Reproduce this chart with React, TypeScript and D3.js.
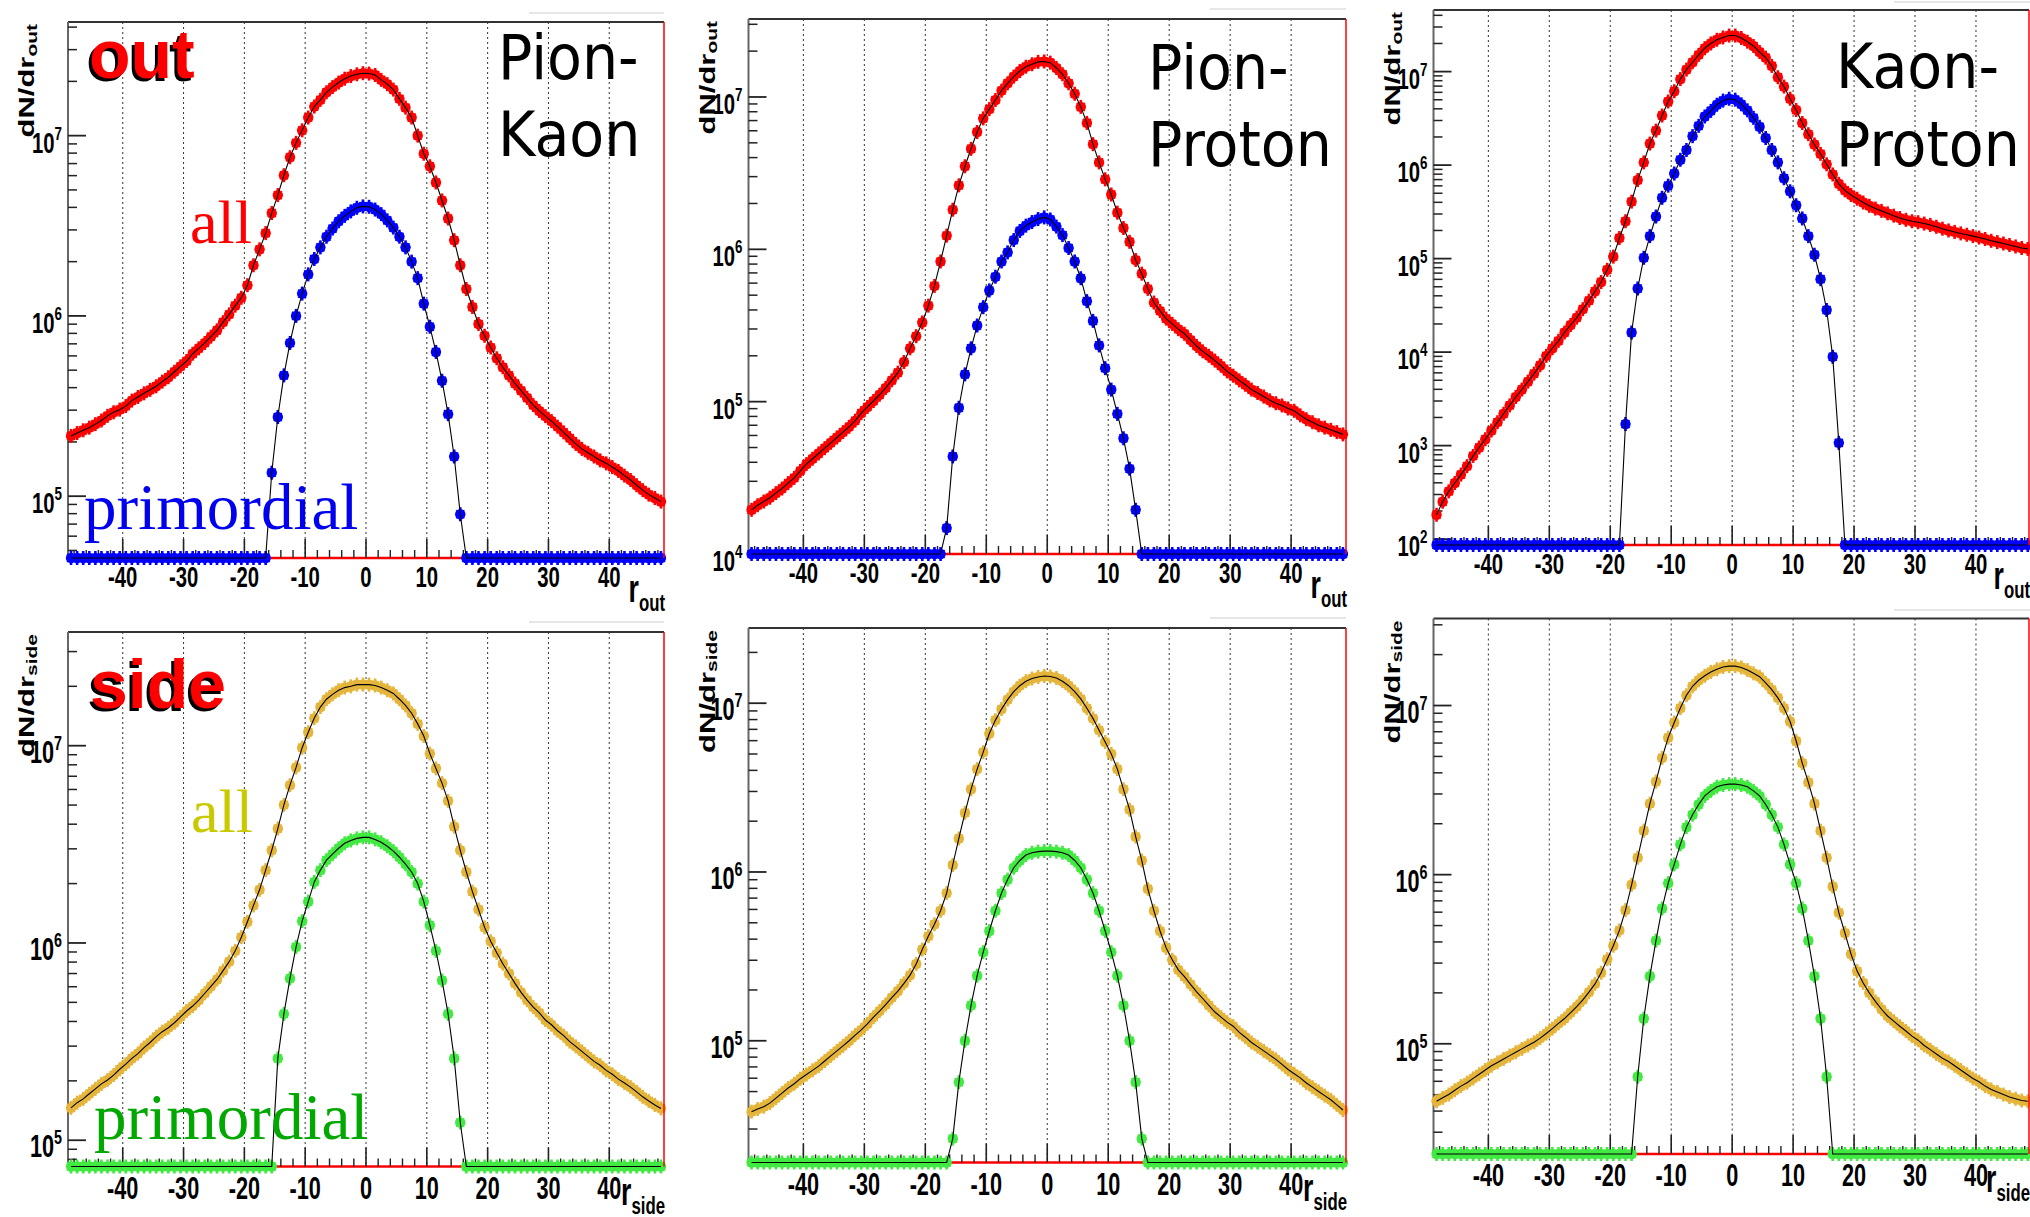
import React from 'react';
import * as d3 from 'd3';

// ---------- bin centres (categories) and axis ticks ----------
const binCenters: number[] = d3.range(-48.5, 49, 1); // 98 bins of width 1
const xMajorTicks = [-40, -30, -20, -10, 0, 10, 20, 30, 40];

// ---------- "out" direction ----------
const outPionKaonAll = [
  2.16e5, 2.24e5, 2.32e5, 2.40e5, 2.51e5, 2.63e5, 2.79e5, 2.92e5, 3.02e5, 3.16e5,
  3.39e5, 3.55e5, 3.72e5, 3.89e5, 4.07e5, 4.32e5, 4.57e5, 4.90e5, 5.25e5, 5.62e5,
  6.17e5, 6.61e5, 7.08e5, 7.67e5, 8.32e5, 9.23e5, 1.02e6, 1.14e6, 1.26e6, 1.48e6,
  1.91e6, 2.34e6, 2.88e6, 3.72e6, 4.68e6, 6.03e6, 7.59e6, 9.12e6, 1.07e7, 1.26e7,
  1.45e7, 1.58e7, 1.74e7, 1.86e7, 1.97e7, 2.07e7, 2.14e7, 2.19e7, 2.22e7, 2.21e7,
  2.17e7, 2.04e7, 1.93e7, 1.80e7, 1.60e7, 1.43e7, 1.26e7, 1.00e7, 7.94e6, 6.76e6,
  5.50e6, 4.37e6, 3.47e6, 2.63e6, 1.91e6, 1.41e6, 1.12e6, 9.02e5, 7.76e5, 6.68e5,
  5.82e5, 5.19e5, 4.68e5, 4.22e5, 3.85e5, 3.51e5, 3.20e5, 2.97e5, 2.78e5, 2.61e5,
  2.43e5, 2.26e5, 2.10e5, 1.95e5, 1.83e5, 1.74e5, 1.66e5, 1.58e5, 1.52e5, 1.45e5,
  1.38e5, 1.30e5, 1.23e5, 1.15e5, 1.08e5, 1.02e5, 9.77e4, 9.33e4,
];
const outPionKaonPrimordial = [
  0, 0, 0, 0, 0, 0, 0, 0, 0, 0,
  0, 0, 0, 0, 0, 0, 0, 0, 0, 0,
  0, 0, 0, 0, 0, 0, 0, 0, 0, 0,
  0, 0, 0, 1.35e5, 2.75e5, 4.68e5, 7.08e5, 1.00e6, 1.33e6, 1.70e6,
  2.07e6, 2.40e6, 2.75e6, 3.05e6, 3.35e6, 3.59e6, 3.80e6, 3.98e6, 4.05e6, 4.03e6,
  3.89e6, 3.67e6, 3.39e6, 3.09e6, 2.75e6, 2.40e6, 2.00e6, 1.62e6, 1.17e6, 8.71e5,
  6.31e5, 4.37e5, 2.85e5, 1.66e5, 7.94e4, 0, 0, 0, 0, 0,
  0, 0, 0, 0, 0, 0, 0, 0, 0, 0,
  0, 0, 0, 0, 0, 0, 0, 0, 0, 0,
  0, 0, 0, 0, 0, 0, 0, 0,
];
const outPionProtonAll = [
  1.95e4, 2.09e4, 2.21e4, 2.34e4, 2.51e4, 2.69e4, 2.92e4, 3.16e4, 3.51e4, 3.89e4,
  4.22e4, 4.57e4, 4.95e4, 5.37e4, 5.82e4, 6.31e4, 6.84e4, 7.50e4, 8.41e4, 9.23e4,
  1.01e5, 1.11e5, 1.23e5, 1.38e5, 1.55e5, 1.82e5, 2.24e5, 2.69e5, 3.31e5, 4.27e5,
  5.75e5, 8.32e5, 1.23e6, 1.82e6, 2.63e6, 3.51e6, 4.57e6, 5.89e6, 7.24e6, 8.32e6,
  9.55e6, 1.10e7, 1.23e7, 1.36e7, 1.48e7, 1.58e7, 1.64e7, 1.70e7, 1.71e7, 1.68e7,
  1.55e7, 1.41e7, 1.23e7, 1.05e7, 8.61e6, 6.76e6, 4.90e6, 3.72e6, 2.88e6, 2.29e6,
  1.74e6, 1.38e6, 1.12e6, 8.51e5, 6.92e5, 5.50e5, 4.47e5, 3.94e5, 3.51e5, 3.24e5,
  2.99e5, 2.79e5, 2.54e5, 2.32e5, 2.14e5, 2.00e5, 1.86e5, 1.72e5, 1.58e5, 1.48e5,
  1.38e5, 1.29e5, 1.20e5, 1.14e5, 1.08e5, 1.02e5, 9.77e4, 9.44e4, 9.02e4, 8.71e4,
  8.13e4, 7.67e4, 7.33e4, 7.00e4, 6.76e4, 6.53e4, 6.31e4, 6.10e4,
];
const outPionProtonPrimordial = [
  0, 0, 0, 0, 0, 0, 0, 0, 0, 0,
  0, 0, 0, 0, 0, 0, 0, 0, 0, 0,
  0, 0, 0, 0, 0, 0, 0, 0, 0, 0,
  0, 0, 1.48e4, 4.37e4, 9.12e4, 1.51e5, 2.24e5, 3.16e5, 4.17e5, 5.37e5,
  6.61e5, 8.32e5, 9.55e5, 1.15e6, 1.32e6, 1.43e6, 1.51e6, 1.58e6, 1.62e6, 1.57e6,
  1.41e6, 1.24e6, 1.02e6, 8.32e5, 6.46e5, 4.57e5, 3.39e5, 2.34e5, 1.66e5, 1.20e5,
  8.32e4, 5.75e4, 3.63e4, 1.95e4, 0, 0, 0, 0, 0, 0,
  0, 0, 0, 0, 0, 0, 0, 0, 0, 0,
  0, 0, 0, 0, 0, 0, 0, 0, 0, 0,
  0, 0, 0, 0, 0, 0, 0, 0,
];
const outKaonProtonAll = [
  1.82e2, 2.51e2, 3.24e2, 3.98e2, 4.90e2, 6.03e2, 7.76e2, 9.55e2, 1.17e3, 1.45e3,
  1.78e3, 2.19e3, 2.69e3, 3.31e3, 3.98e3, 4.84e3, 5.89e3, 7.24e3, 9.12e3, 1.10e4,
  1.32e4, 1.62e4, 1.95e4, 2.34e4, 2.88e4, 3.55e4, 4.47e4, 5.62e4, 7.59e4, 1.05e5,
  1.66e5, 2.51e5, 4.07e5, 6.92e5, 1.07e6, 1.70e6, 2.34e6, 3.39e6, 4.79e6, 6.17e6,
  8.32e6, 1.05e7, 1.26e7, 1.51e7, 1.78e7, 2.00e7, 2.19e7, 2.32e7, 2.43e7, 2.43e7,
  2.29e7, 2.09e7, 1.88e7, 1.62e7, 1.41e7, 1.15e7, 8.71e6, 6.92e6, 5.13e6, 3.89e6,
  2.82e6, 2.14e6, 1.66e6, 1.32e6, 1.02e6, 7.94e5, 6.31e5, 5.37e5, 4.79e5, 4.37e5,
  3.98e5, 3.67e5, 3.43e5, 3.24e5, 3.05e5, 2.88e5, 2.72e5, 2.60e5, 2.51e5, 2.45e5,
  2.37e5, 2.29e5, 2.19e5, 2.09e5, 2.00e5, 1.93e5, 1.86e5, 1.80e5, 1.74e5, 1.68e5,
  1.62e5, 1.55e5, 1.50e5, 1.45e5, 1.40e5, 1.35e5, 1.30e5, 1.27e5,
];
const outKaonProtonPrimordial = [
  0, 0, 0, 0, 0, 0, 0, 0, 0, 0,
  0, 0, 0, 0, 0, 0, 0, 0, 0, 0,
  0, 0, 0, 0, 0, 0, 0, 0, 0, 0,
  0, 1.70e3, 1.62e4, 4.79e4, 1.02e5, 1.74e5, 2.82e5, 4.47e5, 6.03e5, 8.13e5,
  1.14e6, 1.45e6, 2.04e6, 2.63e6, 3.31e6, 3.80e6, 4.42e6, 4.90e6, 5.13e6, 5.01e6,
  4.47e6, 3.85e6, 3.20e6, 2.57e6, 1.95e6, 1.45e6, 1.07e6, 7.24e5, 5.25e5, 3.72e5,
  2.69e5, 1.74e5, 1.10e5, 6.03e4, 2.82e4, 8.91e3, 1.07e3, 0, 0, 0,
  0, 0, 0, 0, 0, 0, 0, 0, 0, 0,
  0, 0, 0, 0, 0, 0, 0, 0, 0, 0,
  0, 0, 0, 0, 0, 0, 0, 0,
];

// ---------- "side" direction ----------
const sidePionKaonAll = [
  1.46e5, 1.55e5, 1.62e5, 1.72e5, 1.82e5, 1.93e5, 2.02e5, 2.14e5, 2.29e5, 2.43e5,
  2.60e5, 2.75e5, 2.95e5, 3.13e5, 3.35e5, 3.55e5, 3.72e5, 3.94e5, 4.22e5, 4.52e5,
  4.79e5, 5.13e5, 5.56e5, 6.03e5, 6.53e5, 7.24e5, 8.04e5, 9.12e5, 1.07e6, 1.28e6,
  1.55e6, 1.86e6, 2.34e6, 2.95e6, 3.80e6, 5.01e6, 6.31e6, 7.76e6, 9.77e6, 1.17e7,
  1.38e7, 1.57e7, 1.72e7, 1.82e7, 1.91e7, 1.97e7, 2.00e7, 2.04e7, 2.04e7, 2.04e7,
  2.02e7, 1.97e7, 1.91e7, 1.84e7, 1.72e7, 1.60e7, 1.46e7, 1.29e7, 1.12e7, 9.12e6,
  7.67e6, 6.46e6, 5.25e6, 3.89e6, 2.95e6, 2.29e6, 1.82e6, 1.48e6, 1.20e6, 1.02e6,
  8.91e5, 7.85e5, 7.00e5, 6.24e5, 5.62e5, 5.13e5, 4.73e5, 4.42e5, 4.07e5, 3.85e5,
  3.59e5, 3.39e5, 3.16e5, 2.99e5, 2.82e5, 2.66e5, 2.51e5, 2.40e5, 2.26e5, 2.16e5,
  2.04e5, 1.95e5, 1.86e5, 1.76e5, 1.66e5, 1.58e5, 1.51e5, 1.45e5,
];
const sidePionKaonPrimordial = [
  0, 0, 0, 0, 0, 0, 0, 0, 0, 0,
  0, 0, 0, 0, 0, 0, 0, 0, 0, 0,
  0, 0, 0, 0, 0, 0, 0, 0, 0, 0,
  0, 0, 0, 0, 2.60e5, 4.37e5, 6.61e5, 9.55e5, 1.29e6, 1.62e6,
  2.04e6, 2.34e6, 2.63e6, 2.82e6, 3.02e6, 3.20e6, 3.31e6, 3.39e6, 3.43e6, 3.43e6,
  3.35e6, 3.24e6, 3.09e6, 2.92e6, 2.72e6, 2.51e6, 2.29e6, 2.00e6, 1.62e6, 1.23e6,
  9.12e5, 6.46e5, 4.37e5, 2.60e5, 1.23e5, 0, 0, 0, 0, 0,
  0, 0, 0, 0, 0, 0, 0, 0, 0, 0,
  0, 0, 0, 0, 0, 0, 0, 0, 0, 0,
  0, 0, 0, 0, 0, 0, 0, 0,
];
const sidePionProtonAll = [
  3.80e4, 3.94e4, 4.07e4, 4.27e4, 4.57e4, 4.90e4, 5.25e4, 5.56e4, 5.96e4, 6.31e4,
  6.68e4, 7.08e4, 7.59e4, 8.13e4, 8.71e4, 9.33e4, 1.00e5, 1.08e5, 1.16e5, 1.26e5,
  1.38e5, 1.50e5, 1.64e5, 1.80e5, 1.97e5, 2.19e5, 2.45e5, 2.85e5, 3.47e5, 4.17e5,
  4.90e5, 5.89e5, 7.50e5, 1.10e6, 1.58e6, 2.24e6, 3.09e6, 4.07e6, 5.13e6, 6.61e6,
  7.94e6, 9.23e6, 1.05e7, 1.17e7, 1.27e7, 1.35e7, 1.40e7, 1.43e7, 1.45e7, 1.44e7,
  1.41e7, 1.35e7, 1.27e7, 1.17e7, 1.06e7, 9.33e6, 8.13e6, 6.92e6, 5.89e6, 5.01e6,
  4.07e6, 3.09e6, 2.34e6, 1.62e6, 1.17e6, 7.94e5, 5.89e5, 4.47e5, 3.55e5, 3.02e5,
  2.63e5, 2.40e5, 2.16e5, 1.95e5, 1.78e5, 1.62e5, 1.48e5, 1.38e5, 1.29e5, 1.22e5,
  1.12e5, 1.05e5, 9.77e4, 9.23e4, 8.71e4, 8.22e4, 7.76e4, 7.24e4, 6.76e4, 6.38e4,
  6.03e4, 5.62e4, 5.31e4, 5.01e4, 4.73e4, 4.47e4, 4.17e4, 3.89e4,
];
const sidePionProtonPrimordial = [
  0, 0, 0, 0, 0, 0, 0, 0, 0, 0,
  0, 0, 0, 0, 0, 0, 0, 0, 0, 0,
  0, 0, 0, 0, 0, 0, 0, 0, 0, 0,
  0, 0, 0, 2.63e4, 5.69e4, 1.00e5, 1.62e5, 2.43e5, 3.35e5, 4.47e5,
  5.89e5, 7.50e5, 9.02e5, 1.06e6, 1.17e6, 1.26e6, 1.30e6, 1.32e6, 1.33e6, 1.33e6,
  1.32e6, 1.30e6, 1.26e6, 1.17e6, 1.06e6, 9.02e5, 7.50e5, 5.89e5, 4.47e5, 3.35e5,
  2.43e5, 1.62e5, 1.00e5, 5.69e4, 2.63e4, 0, 0, 0, 0, 0,
  0, 0, 0, 0, 0, 0, 0, 0, 0, 0,
  0, 0, 0, 0, 0, 0, 0, 0, 0, 0,
  0, 0, 0, 0, 0, 0, 0, 0,
];
const sideKaonProtonAll = [
  4.57e4, 4.79e4, 5.01e4, 5.31e4, 5.62e4, 5.89e4, 6.24e4, 6.61e4, 7.00e4, 7.41e4,
  7.76e4, 8.13e4, 8.51e4, 8.91e4, 9.33e4, 9.77e4, 1.02e5, 1.08e5, 1.15e5, 1.23e5,
  1.32e5, 1.41e5, 1.53e5, 1.66e5, 1.82e5, 2.02e5, 2.26e5, 2.63e5, 3.16e5, 3.80e5,
  4.68e5, 6.17e5, 8.71e5, 1.26e6, 1.82e6, 2.63e6, 3.55e6, 4.90e6, 6.46e6, 7.94e6,
  9.66e6, 1.15e7, 1.30e7, 1.41e7, 1.50e7, 1.58e7, 1.64e7, 1.69e7, 1.71e7, 1.71e7,
  1.68e7, 1.62e7, 1.55e7, 1.48e7, 1.36e7, 1.24e7, 1.11e7, 9.66e6, 8.04e6, 6.17e6,
  4.57e6, 3.51e6, 2.63e6, 1.82e6, 1.26e6, 8.51e5, 5.96e5, 4.52e5, 3.39e5, 2.69e5,
  2.29e5, 2.00e5, 1.78e5, 1.60e5, 1.46e5, 1.36e5, 1.27e5, 1.19e5, 1.11e5, 1.05e5,
  9.77e4, 9.23e4, 8.71e4, 8.22e4, 7.85e4, 7.41e4, 7.00e4, 6.61e4, 6.24e4, 5.96e4,
  5.62e4, 5.37e4, 5.19e4, 5.01e4, 4.84e4, 4.73e4, 4.62e4, 4.57e4,
];
const sideKaonProtonPrimordial = [
  0, 0, 0, 0, 0, 0, 0, 0, 0, 0,
  0, 0, 0, 0, 0, 0, 0, 0, 0, 0,
  0, 0, 0, 0, 0, 0, 0, 0, 0, 0,
  0, 0, 0, 6.38e4, 1.41e5, 2.51e5, 4.07e5, 6.31e5, 8.91e5, 1.15e6,
  1.51e6, 1.91e6, 2.26e6, 2.60e6, 2.92e6, 3.13e6, 3.31e6, 3.39e6, 3.43e6, 3.43e6,
  3.39e6, 3.31e6, 3.13e6, 2.92e6, 2.60e6, 2.26e6, 1.91e6, 1.51e6, 1.15e6, 8.91e5,
  6.31e5, 4.07e5, 2.51e5, 1.41e5, 6.38e4, 0, 0, 0, 0, 0,
  0, 0, 0, 0, 0, 0, 0, 0, 0, 0,
  0, 0, 0, 0, 0, 0, 0, 0, 0, 0,
  0, 0, 0, 0, 0, 0, 0, 0,
];

// ---------- styling ----------
const RED = '#ff0000';
const BLUE = '#0000ff';
const GOLD = '#e4b53a';
const LIME = '#40ea40';

type PanelCfg = {
  key: string; all: number[]; prim: number[]; allColor: string; primColor: string;
  sub: string; row: number; left: number; right: number; top: number; bottom: number;
  xMax: number; yMin: number; yMax: number;
  names?: string[]; namesX?: number; namesY?: number[];
};

const panels: PanelCfg[] = [
  { key: 'outPK', all: outPionKaonAll, prim: outPionKaonPrimordial, allColor: RED, primColor: BLUE, sub: 'out', row: 0,
    left: 68, right: 664, top: 22, bottom: 558, xMax: 49, yMin: 4.54e4, yMax: 4.27e7,
    names: ['Pion-', 'Kaon'], namesX: 498, namesY: [79, 156] },
  { key: 'outPiP', all: outPionProtonAll, prim: outPionProtonPrimordial, allColor: RED, primColor: BLUE, sub: 'out', row: 0,
    left: 748.5, right: 1346, top: 19, bottom: 554, xMax: 49, yMin: 1e4, yMax: 3.25e7,
    names: ['Pion-', 'Proton'], namesX: 1148, namesY: [89, 166] },
  { key: 'outKP', all: outKaonProtonAll, prim: outKaonProtonPrimordial, allColor: RED, primColor: BLUE, sub: 'out', row: 0,
    left: 1433.5, right: 2029, top: 10, bottom: 545, xMax: 48.7, yMin: 86.5, yMax: 4.56e7,
    names: ['Kaon-', 'Proton'], namesX: 1836, namesY: [88, 166] },
  { key: 'sidePK', all: sidePionKaonAll, prim: sidePionKaonPrimordial, allColor: GOLD, primColor: LIME, sub: 'side', row: 1,
    left: 68, right: 664, top: 632, bottom: 1166.5, xMax: 49, yMin: 7.36e4, yMax: 3.77e7 },
  { key: 'sidePiP', all: sidePionProtonAll, prim: sidePionProtonPrimordial, allColor: GOLD, primColor: LIME, sub: 'side', row: 1,
    left: 748.5, right: 1346, top: 628, bottom: 1162.5, xMax: 49, yMin: 1.90e4, yMax: 2.79e7 },
  { key: 'sideKP', all: sideKaonProtonAll, prim: sideKaonProtonPrimordial, allColor: GOLD, primColor: LIME, sub: 'side', row: 1,
    left: 1433.5, right: 2029, top: 618.5, bottom: 1154, xMax: 48.7, yMin: 2.23e4, yMax: 3.27e7 },
];

const rowStyle = [
  { tickFont: 29, tickDy: 29, rDy: 44, subDy: 9 },
  { tickFont: 31, tickDy: 32, rDy: 38, subDy: 9 },
];

const SANS = 'Liberation Sans, Arial, Helvetica, sans-serif';
const SERIF = 'Liberation Serif, Times New Roman, serif';

function Markers({ xs, ys, color }: { xs: number[]; ys: number[]; color: string }) {
  return (
    <g>
      {xs.map((cx, i) => {
        const cy = ys[i];
        return (
          <g key={i}>
            <line x1={cx - 4.5} x2={cx + 4.5} y1={cy} y2={cy} stroke={color} strokeWidth={2.6} />
            <line x1={cx} x2={cx} y1={cy - 7} y2={cy + 7} stroke={color} strokeWidth={2.6} />
            <line x1={cx - 4} x2={cx + 4} y1={cy - 4} y2={cy + 4} stroke={color} strokeWidth={1.6} />
            <line x1={cx - 4} x2={cx + 4} y1={cy + 4} y2={cy - 4} stroke={color} strokeWidth={1.6} />
            <circle cx={cx} cy={cy} r={5.2} fill={color} />
          </g>
        );
      })}
    </g>
  );
}

function Panel({ p }: { p: PanelCfg }) {
  const rs = rowStyle[p.row];
  const x = d3.scaleLinear().domain([-49, p.xMax]).range([p.left, p.right]);
  const y = d3.scaleLog().domain([p.yMin, p.yMax]).range([p.bottom, p.top]);
  const yv = (v: number) => (v > 0 ? y(v) : p.bottom);
  const xs = binCenters.map((c) => x(c));
  const allY = p.all.map(yv);
  const primY = p.prim.map(yv);
  const line = d3.line<number>().x((_, i) => xs[i]).y((d) => d);

  const kMin = Math.ceil(Math.log10(p.yMin) - 1e-6);
  const kMax = Math.floor(Math.log10(p.yMax));
  const majorExps = d3.range(kMin, kMax + 1);
  const minorVals: number[] = [];
  for (let k = kMin - 1; k <= kMax; k++) {
    for (let m = 2; m <= 9; m++) {
      const v = m * Math.pow(10, k);
      if (v > p.yMin && v < p.yMax) minorVals.push(v);
    }
  }
  const xMinor = d3.range(-48, 49, 2).filter((t) => t % 10 !== 0);

  return (
    <g>
      {/* dotted vertical grid */}
      {xMajorTicks.map((t) => (
        <line key={'g' + t} x1={x(t)} x2={x(t)} y1={p.top} y2={p.bottom} stroke="#000" strokeWidth={1}
          strokeDasharray="2,3" opacity={0.8} />
      ))}
      {/* frame */}
      <line x1={p.left} x2={p.right} y1={p.top} y2={p.top} stroke="#333" strokeWidth={2} />
      <line x1={p.left} x2={p.left} y1={p.top} y2={p.bottom} stroke="#666" strokeWidth={2} />
      <line x1={p.left} x2={p.right} y1={p.bottom} y2={p.bottom} stroke={RED} strokeWidth={2.5} />
      {/* x ticks */}
      {xMajorTicks.map((t) => (
        <line key={'xt' + t} x1={x(t)} x2={x(t)} y1={p.bottom} y2={p.bottom - 19} stroke="#222" strokeWidth={1.6} />
      ))}
      {xMinor.map((t) => (
        <line key={'xm' + t} x1={x(t)} x2={x(t)} y1={p.bottom} y2={p.bottom - 8} stroke="#222" strokeWidth={1.4} />
      ))}
      {/* y ticks */}
      {majorExps.map((k) => (
        <line key={'yt' + k} x1={p.left} x2={p.left + 18} y1={y(Math.pow(10, k))} y2={y(Math.pow(10, k))}
          stroke="#222" strokeWidth={1.8} />
      ))}
      {minorVals.map((v, i) => (
        <line key={'ym' + i} x1={p.left} x2={p.left + 9} y1={y(v)} y2={y(v)} stroke="#222" strokeWidth={1.5} />
      ))}
      {/* data: all */}
      <Markers xs={xs} ys={allY} color={p.allColor} />
      <path d={line(allY) || ''} fill="none" stroke="#000" strokeWidth={1.1} />
      {/* data: primordial */}
      <Markers xs={xs} ys={primY} color={p.primColor} />
      <path d={line(primY) || ''} fill="none" stroke="#000" strokeWidth={1.1} />
      {/* right border */}
      <line x1={p.right} x2={p.right} y1={p.top} y2={p.bottom} stroke={RED} strokeWidth={1.5} />
      {/* y axis title */}
      <text transform={`translate(${p.left - 34},${p.top + 2}) rotate(-90) scale(1,0.7)`} textAnchor="end"
        fontFamily={SANS} fontWeight="bold" fontSize={31} fill="#000">
        dN/dr<tspan dy={4} fontSize={21}>{p.sub}</tspan>
      </text>
      {/* y tick labels */}
      {majorExps.map((k) => (
        <text key={'yl' + k} transform={`translate(${p.left - 6},${y(Math.pow(10, k)) + 17}) scale(0.7,1)`}
          textAnchor="end" fontFamily={SANS} fontWeight="bold" fontSize={rs.tickFont} fill="#000">
          10<tspan dy={-13} fontSize={rs.tickFont * 0.66}>{k}</tspan>
        </text>
      ))}
      {/* x tick labels */}
      {xMajorTicks.map((t) => (
        <text key={'xl' + t} transform={`translate(${x(t)},${p.bottom + rs.tickDy}) scale(0.7,1)`}
          textAnchor="middle" fontFamily={SANS} fontWeight="bold" fontSize={rs.tickFont} fill="#000">
          {t}
        </text>
      ))}
      {/* x axis title */}
      <text transform={`translate(${p.right + 1},${p.bottom + rs.rDy}) scale(0.7,1)`} textAnchor="end"
        fontFamily={SANS} fontWeight="bold" fontSize={38} fill="#000">
        r<tspan dy={rs.subDy} fontSize={24}>{p.sub}</tspan>
      </text>
      {/* pair names */}
      {p.names && p.names.map((n, i) => (
        <text key={'n' + i} transform={`translate(${p.namesX},${p.namesY![i]}) scale(0.92,1)`}
          fontFamily="DejaVu Sans, Verdana, sans-serif" fontSize={62} fill="#000">{n}</text>
      ))}
    </g>
  );
}

export default function App() {
  return (
    <svg width={2030} height={1217} viewBox="0 0 2030 1217"
      style={{ position: 'absolute', left: 0, top: 0, background: '#fff' }}>
      <rect x={0} y={0} width={2030} height={1217} fill="#fff" />
      {/* faint legend-box edges */}
      <g stroke="#e6e6e6" strokeWidth={2}>
        <line x1={529} x2={664} y1={13} y2={13} />
        <line x1={529} x2={664} y1={622} y2={622} />
        <line x1={1210} x2={1346} y1={9} y2={9} />
        <line x1={1210} x2={1346} y1={618} y2={618} />
        <line x1={1894} x2={2030} y1={2} y2={2} />
        <line x1={1894} x2={2030} y1={610} y2={610} />
      </g>
      {panels.map((p) => <Panel key={p.key} p={p} />)}
      {/* overlay labels */}
      <text x={86} y={81} fontFamily={SANS} fontWeight="bold" fontSize={68} fill="#000">out</text>
      <text x={89} y={78} fontFamily={SANS} fontWeight="bold" fontSize={68} fill={RED}>out</text>
      <text x={87} y={711} fontFamily={SANS} fontWeight="bold" fontSize={68} fill="#000">side</text>
      <text x={90} y={708} fontFamily={SANS} fontWeight="bold" fontSize={68} fill={RED}>side</text>
      <text x={190} y={243} fontFamily={SERIF} fontSize={62} fill={RED}>all</text>
      <text x={84} y={529} fontFamily={SERIF} fontSize={65} fill="#0000ee">primordial</text>
      <text x={191} y={832} fontFamily={SERIF} fontSize={62} fill="#c9c900">all</text>
      <text x={94} y={1139} fontFamily={SERIF} fontSize={65} fill="#00a800">primordial</text>
    </svg>
  );
}
